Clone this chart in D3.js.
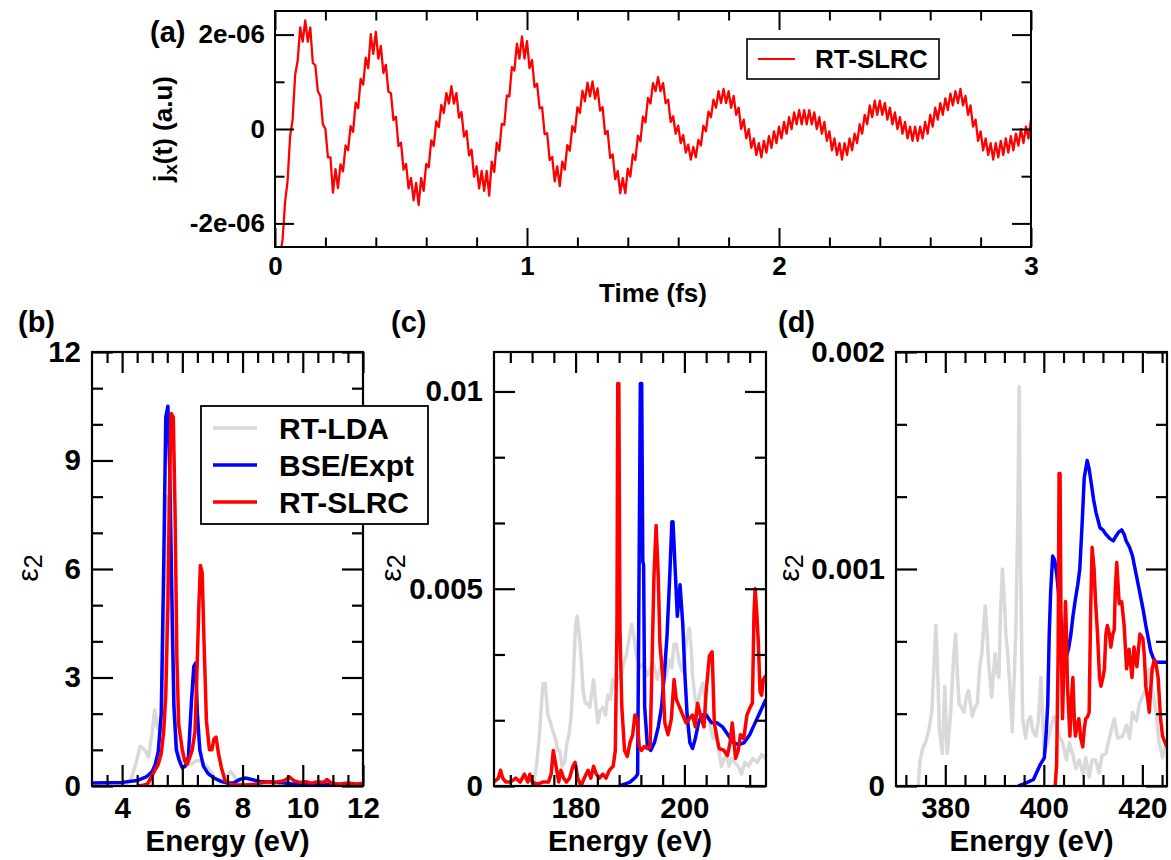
<!DOCTYPE html>
<html><head><meta charset="utf-8">
<script src="https://cdn.jsdelivr.net/npm/d3@7"></script>
<style>
body{margin:0;background:#fff}
svg{display:block}
text{font-family:"Liberation Sans",Arial,Helvetica,sans-serif}
</style>
</head><body>
<svg id="chart" width="1171" height="860"></svg>
<script>
// ---------------- DATA ----------------
// (a) current density j_x(t), sampled every 0.01 fs from t = 0, values in units of 1e-6 a.u.
const jxTimeStep = 0.01;
const jxUnit = 1e-6;
const jxValues = [
-2.9,-2.95,-2.7,-2.35,-1.55,-1.1,-0.15,0.2,1.15,1.45,
2.15,1.85,2.3,1.85,2.15,1.4,1.35,0.8,0.7,0.1,
0.0,-0.6,-0.6,-1.35,-0.85,-1.25,-0.75,-0.9,-0.35,-0.45,
0.06,-0.06,0.56,0.44,1.06,0.94,1.51,1.29,2.01,1.59,
2.06,1.49,1.76,1.19,1.36,0.79,0.76,0.19,0.26,-0.36,
-0.29,-0.86,-0.74,-1.26,-1.04,-1.51,-1.14,-1.61,-1.04,-1.31,
-0.74,-0.81,-0.24,-0.36,0.16,0.04,0.51,0.34,0.76,0.54,
0.91,0.54,0.76,0.24,0.36,-0.16,-0.04,-0.56,-0.44,-1.01,
-0.79,-1.26,-0.89,-1.31,-0.89,-1.41,-0.69,-0.91,-0.29,-0.46,
0.11,0.09,0.71,0.69,1.31,1.24,1.81,1.49,1.96,1.49,
1.86,1.29,1.46,0.89,0.96,0.44,0.46,-0.11,-0.09,-0.66,
-0.59,-1.11,-0.79,-1.21,-0.69,-0.86,-0.34,-0.46,0.06,-0.06,
0.46,0.34,0.81,0.59,0.98,0.69,1.01,0.64,0.86,0.39,
0.46,-0.11,-0.04,-0.61,-0.54,-1.06,-0.89,-1.36,-1.04,-1.36,
-0.84,-1.01,-0.54,-0.66,-0.14,-0.26,0.26,0.14,0.66,0.54,
0.97,0.8,1.1,0.8,0.97,0.55,0.62,0.15,0.27,-0.1,
0.07,-0.3,-0.13,-0.5,-0.33,-0.65,-0.38,-0.6,-0.23,-0.35,
0.07,-0.05,0.37,0.25,0.62,0.45,0.8,0.55,0.85,0.55,
0.8,0.45,0.7,0.3,0.45,0.0,0.2,-0.2,0.0,-0.4,
-0.2,-0.55,-0.3,-0.6,-0.25,-0.5,-0.15,-0.4,-0.05,-0.3,
0.05,-0.2,0.15,-0.1,0.25,0.0,0.35,0.1,0.4,0.1,
0.4,0.1,0.4,0.1,0.35,0.0,0.25,-0.1,0.15,-0.25,
-0.05,-0.45,-0.2,-0.55,-0.3,-0.65,-0.3,-0.55,-0.2,-0.45,
-0.1,-0.3,0.1,-0.1,0.3,0.1,0.5,0.25,0.6,0.3,
0.6,0.3,0.55,0.2,0.45,0.1,0.35,0.0,0.25,-0.1,
0.15,-0.2,0.05,-0.25,0.05,-0.25,0.05,-0.2,0.15,-0.1,
0.3,0.05,0.45,0.2,0.55,0.3,0.65,0.4,0.75,0.5,
0.8,0.55,0.85,0.5,0.7,0.3,0.5,0.05,0.2,-0.25,
-0.05,-0.45,-0.2,-0.55,-0.3,-0.65,-0.3,-0.6,-0.25,-0.55,
-0.2,-0.5,-0.15,-0.45,-0.1,-0.35,0.0,-0.3,0.05,-0.2,
0.2
];
const aXTicks = [0, 1, 2, 3];
const aXTickLabels = ["0", "1", "2", "3"];
const aXMinor = [0.2,0.4,0.6,0.8,1.2,1.4,1.6,1.8,2.2,2.4,2.6,2.8];
const aYTicks = [-2e-6, 0, 2e-6];
const aYTickLabels = ["-2e-06", "0", "2e-06"];
const aYMinor = [-1e-6, 1e-6];

// (b) valence region, [energy eV, epsilon_2]
const bLDA = [[3.8,0],[4.1,0.02],[4.3,0.2],[4.45,0.6],[4.6,1.1],[4.75,1.0],[4.88,0.8],[5.0,1.5],[5.08,2.1],[5.18,1.6],[5.3,1.5],[5.4,4],[5.48,8],[5.55,8],[5.65,4],[5.8,1.2],[6.0,0.7],[6.15,0.6],[6.3,0.6],[6.45,0.7],[6.6,0.7],[6.75,0.6],[6.9,0.45],[7.1,0.2],[7.3,0.15],[7.5,0.3],[7.6,0.4],[7.7,0.3],[7.85,0.1],[8.0,0.05],[8.5,0.05],[9,0.05],[10,0.03],[11,0.03],[12,0.03]];
const bBSE = [[3,0.08],[3.5,0.09],[4,0.1],[4.5,0.15],[4.8,0.25],[5.0,0.4],[5.1,0.6],[5.2,0.95],[5.3,2.0],[5.38,6.0],[5.45,10.2],[5.52,10.5],[5.58,8.8],[5.65,5.4],[5.72,2.2],[5.8,1.0],[5.9,0.7],[6.0,0.5],[6.1,0.55],[6.2,0.8],[6.3,2.3],[6.38,3.3],[6.44,3.4],[6.5,2.0],[6.58,1.0],[6.7,0.55],[6.85,0.35],[7.05,0.22],[7.3,0.12],[7.5,0.08],[7.7,0.08],[7.9,0.18],[8.1,0.22],[8.3,0.18],[8.6,0.12],[8.9,0.12],[9.2,0.1],[9.6,0.06],[10.0,0.05],[10.4,0.03],[10.8,0.05],[11.2,0.04],[11.6,0.05],[12,0.05]];
const bSLRC = [[4.5,0],[4.7,0.02],[4.85,0.06],[5.0,0.3],[5.1,0.45],[5.2,0.6],[5.3,0.9],[5.38,1.5],[5.45,2.5],[5.52,5.0],[5.58,8.5],[5.63,10.3],[5.7,10.2],[5.76,7.5],[5.82,3.5],[5.88,1.7],[5.93,1.4],[6.0,1.0],[6.08,0.7],[6.16,0.6],[6.25,0.8],[6.33,1.0],[6.42,1.5],[6.48,3.0],[6.55,5.0],[6.6,6.1],[6.66,5.9],[6.72,4.0],[6.8,1.8],[6.9,1.0],[6.98,1.0],[7.05,1.3],[7.12,1.35],[7.2,0.9],[7.3,0.5],[7.42,0.15],[7.6,0.05],[7.8,0.03],[8.1,0.03],[8.4,0.05],[8.8,0.12],[9.1,0.1],[9.4,0.15],[9.55,0.25],[9.7,0.15],[9.9,0.1],[10.1,0.12],[10.3,0.08],[10.5,0.12],[10.7,0.1],[10.8,0.18],[10.95,0.08],[11.2,0.05],[11.5,0.08],[11.8,0.05],[12,0.08]];
const bXTicks = [4, 6, 8, 10, 12];
const bXTickLabels = ["4", "6", "8", "10", "12"];
const bXMinor = [3.5,4.5,5,5.5,6.5,7,7.5,8.5,9,9.5,10.5,11,11.5];
const bYTicks = [0, 3, 6, 9, 12];
const bYTickLabels = ["0", "3", "6", "9", "12"];
const bYMinor = [1,2,4,5,7,8,10,11];

// (c)
const cLDA = [[172.2,0],[172.8,0.0005],[173.3,0.0012],[173.7,0.002],[174.0,0.0026],[174.4,0.0026],[174.9,0.0018],[175.4,0.0016],[175.8,0.0014],[176.3,0.0012],[176.7,0.0009],[177.1,0.0009],[177.5,0.0005],[178.0,0.0006],[178.4,0.0011],[178.8,0.0013],[179.2,0.0018],[179.6,0.0028],[180.0,0.0041],[180.3,0.0043],[180.7,0.0038],[181.0,0.0033],[181.4,0.0024],[181.8,0.0021],[182.2,0.0021],[182.6,0.002],[183.0,0.0024],[183.3,0.0027],[183.7,0.0021],[184.1,0.0016],[184.5,0.0019],[185.0,0.002],[185.5,0.0018],[185.9,0.0023],[186.4,0.0022],[186.8,0.0027],[187.3,0.0025],[187.8,0.0028],[188.3,0.0027],[188.8,0.0031],[189.3,0.0033],[189.8,0.0037],[190.3,0.0041],[190.7,0.0038],[191.2,0.0033],[191.8,0.003],[192.5,0.0031],[193.2,0.0028],[193.8,0.003],[194.3,0.0031],[195,0.0027],[195.6,0.003],[196.2,0.0026],[196.7,0.0028],[197.2,0.0032],[197.7,0.003],[198.1,0.0036],[198.5,0.0036],[199.1,0.0031],[199.6,0.0029],[200.0,0.0033],[200.5,0.0038],[200.9,0.004],[201.3,0.0034],[201.5,0.0028],[202.0,0.0022],[202.4,0.002],[202.9,0.0024],[203.4,0.0026],[203.9,0.002],[204.6,0.0016],[205.3,0.0012],[205.9,0.0014],[206.3,0.0009],[206.8,0.0005],[207.3,0.0007],[207.7,0.0008],[208.2,0.0005],[208.6,0.0007],[209.2,0.0006],[209.9,0.0005],[210.5,0.0003],[211.1,0.0006],[211.8,0.0005],[212.6,0.0007],[213.4,0.0006],[214.2,0.0008],[215,0.0007]];
const cBSE = [[188.0,0],[189,0.00005],[190,0.0001],[191.0,0.00022],[191.4,0.0003],[191.6,0.004],[191.9,0.0102],[192.15,0.0102],[192.35,0.0057],[192.5,0.0056],[192.7,0.002],[193.2,0.001],[193.8,0.0009],[194.5,0.0011],[195.2,0.0015],[195.8,0.002],[196.4,0.003],[196.8,0.0038],[197.3,0.0053],[197.7,0.0067],[197.9,0.0067],[198.3,0.0055],[198.7,0.0043],[199.2,0.0051],[199.7,0.0041],[200.1,0.0028],[200.5,0.0018],[201.0,0.0011],[201.5,0.00095],[202.0,0.0012],[202.6,0.0016],[203.2,0.0018],[204,0.0018],[205,0.0016],[206,0.0016],[207,0.0015],[208,0.0013],[209,0.0011],[210,0.00105],[211,0.0011],[212,0.0013],[213,0.0016],[214,0.0019],[215,0.0022]];
const cSLRC = [[165,0.0001],[165.8,0.0002],[166.2,0.0004],[166.6,0.0002],[167.2,0.0001],[168,0.0001],[169,0.0002],[169.8,0.0001],[170.6,0.0003],[171.2,0.0001],[171.6,0.0003],[172,0.0001],[173,0.00005],[174,0.0001],[175,0.0001],[175.5,0.0003],[175.9,0.0009],[176.4,0.0005],[176.9,0.0001],[177.3,0.0004],[177.8,0.0002],[178.3,0.0001],[178.9,0.0002],[179.5,0.0005],[179.9,0.0006],[180.4,0.0002],[181,0.0],[181.6,0.0002],[182.3,0.0004],[182.8,0.0002],[183.3,0.0005],[183.8,0.0003],[184.4,0.0002],[185,0.0003],[185.6,0.0002],[186.2,0.0004],[186.9,0.0005],[187.3,0.0009],[187.6,0.004],[187.75,0.0102],[187.95,0.0102],[188.15,0.004],[188.5,0.002],[189.0,0.0009],[189.5,0.00075],[190.0,0.0011],[190.5,0.0013],[190.9,0.0018],[191.3,0.0017],[191.7,0.001],[192.1,0.0009],[192.6,0.001],[193.2,0.00095],[193.7,0.001],[194.0,0.0028],[194.4,0.0053],[194.8,0.0066],[195.2,0.0053],[195.5,0.0036],[196.0,0.0028],[196.4,0.0016],[197.0,0.0013],[197.6,0.0017],[198.1,0.0027],[198.5,0.0022],[199.1,0.002],[199.7,0.0018],[200.3,0.0016],[200.9,0.0017],[201.5,0.0018],[202.0,0.0015],[202.4,0.0021],[203.1,0.0017],[203.6,0.0015],[204.0,0.0024],[204.6,0.0033],[205.1,0.0034],[205.5,0.0016],[206.0,0.0012],[206.4,0.00095],[207.3,0.0009],[207.9,0.00077],[208.4,0.0011],[208.8,0.0016],[209.4,0.0007],[209.9,0.0009],[210.3,0.0013],[210.9,0.0012],[211.5,0.0018],[212.1,0.002],[212.5,0.0021],[212.8,0.0044],[213.0,0.005],[213.3,0.0044],[213.6,0.0036],[213.9,0.0024],[214.2,0.0023],[214.5,0.0027],[215,0.0028]];
const cXTicks = [180, 200];
const cXTickLabels = ["180", "200"];
const cXMinor = [168,172,176,184,188,192,196,204,208,212];
const cYTicks = [0, 0.005, 0.01];
const cYTickLabels = ["0", "0.005", "0.01"];
const cYMinor = [0.005/3, 0.01/3, 0.02/3, 0.025/3];

// (d)
const dLDA = [[374.5,0],[374.9,0.00012],[375.5,0.00018],[376,0.0002],[376.7,0.00026],[377.3,0.00035],[377.8,0.0006],[378.1,0.00074],[378.5,0.0005],[378.8,0.00026],[379.4,0.00015],[379.9,0.00046],[380.4,0.00015],[381.1,0.00034],[381.7,0.0006],[382.1,0.0007],[382.5,0.0005],[382.8,0.00038],[383.3,0.00036],[383.8,0.00034],[384.2,0.0004],[384.7,0.00044],[385.1,0.00038],[385.5,0.00032],[386,0.00036],[386.5,0.00038],[387,0.00055],[387.4,0.00061],[388.1,0.00083],[388.5,0.0007],[388.8,0.00057],[389.4,0.00041],[390.1,0.00061],[390.5,0.00052],[390.9,0.0005],[391.2,0.0008],[391.6,0.001],[392.0,0.00085],[392.3,0.0007],[392.7,0.0006],[393.1,0.00046],[393.6,0.00025],[394.3,0.0007],[394.7,0.0012],[395.0,0.00184],[395.3,0.001],[395.7,0.00031],[396.3,0.00022],[396.8,0.0003],[397.3,0.00032],[397.8,0.00025],[398.4,0.00023],[398.9,0.0003],[399.4,0.0005],[400.1,0.00015],[400.8,0.0002],[401.5,0.00028],[402.1,0.00032],[402.8,0.00025],[403.8,0.0002],[404.6,0.00012],[405.2,0.0002],[405.8,0.00015],[406.5,0.00008],[407.2,0.00012],[408,0.00005],[408.5,0.00013],[409.2,0.00004],[409.8,0.00012],[410.5,0.00012],[411.2,0.00006],[411.8,0.00014],[412.6,0.00015],[413.3,0.00022],[414.3,0.00031],[415,0.00022],[416,0.00023],[416.8,0.00028],[417.4,0.00022],[418,0.00034],[418.8,0.0003],[419.4,0.00038],[420,0.00041],[420.7,0.00045],[421.4,0.00054],[422,0.00045],[422.7,0.00035],[423.4,0.0002],[424.1,0.00013],[424.6,0.00018],[425,0.0002]];
const dBSE = [[394.8,0],[396,0.00001],[397.9,0.00003],[399.3,0.0001],[400.1,0.00013],[400.5,0.00025],[400.8,0.00038],[401.1,0.0007],[401.4,0.0009],[401.8,0.00106],[402.2,0.00104],[402.6,0.00098],[403.2,0.00084],[403.7,0.0007],[404.2,0.00064],[404.6,0.0006],[405.0,0.00063],[405.5,0.0007],[405.9,0.00078],[406.4,0.00086],[406.9,0.00093],[407.3,0.001],[407.8,0.00122],[408.2,0.00142],[408.8,0.0015],[409.2,0.00146],[409.6,0.0014],[410.1,0.00132],[410.6,0.00126],[411.4,0.00119],[412,0.00118],[412.6,0.00116],[413.4,0.00114],[414.1,0.00113],[414.6,0.00115],[415.2,0.00117],[415.8,0.00118],[416.3,0.00116],[416.7,0.00113],[417.4,0.0011],[418,0.00106],[418.7,0.00098],[419.4,0.0009],[420.1,0.00082],[420.7,0.00074],[421.2,0.00068],[421.7,0.00062],[422.2,0.00059],[422.7,0.00057],[423.7,0.00057],[425,0.00057]];
const dSLRC = [[402.0,-0.0001],[402.6,0.0001],[402.9,0.0006],[403.1,0.00144],[403.3,0.00144],[403.5,0.0007],[403.8,0.00031],[404.1,0.0006],[404.4,0.00085],[404.6,0.0007],[404.8,0.00046],[405.3,0.00023],[405.6,0.0004],[405.9,0.0005],[406.2,0.0003],[406.4,0.00023],[406.8,0.00028],[407.1,0.00031],[407.5,0.00022],[407.9,0.00018],[408.2,0.00026],[408.5,0.00031],[408.9,0.00032],[409.2,0.00034],[409.5,0.0008],[409.8,0.0011],[410.2,0.001],[410.5,0.00085],[410.9,0.0007],[411.3,0.0005],[411.6,0.00046],[412.0,0.0005],[412.3,0.00054],[412.6,0.0007],[412.9,0.00074],[413.3,0.0007],[413.6,0.00064],[414.0,0.0007],[414.3,0.00072],[414.5,0.0009],[414.8,0.00103],[415.3,0.00084],[415.8,0.00085],[416.3,0.00074],[416.8,0.00054],[417.3,0.00063],[417.9,0.0005],[418.3,0.00064],[418.9,0.00055],[419.5,0.0007],[420.1,0.00068],[420.4,0.0006],[420.7,0.00046],[421.1,0.0004],[421.4,0.00034],[421.7,0.00045],[422,0.00054],[422.4,0.00058],[422.7,0.00057],[423.2,0.0005],[423.7,0.00031],[424.1,0.00023],[424.6,0.0002],[425,0.00018]];
const dXTicks = [380, 400, 420];
const dXTickLabels = ["380", "400", "420"];
const dXMinor = [372,376,384,388,392,396,404,408,412,416,424];
const dYTicks = [0, 0.001, 0.002];
const dYTickLabels = ["0", "0.001", "0.002"];
const dYMinor = [0.001/3, 0.002/3, 0.004/3, 0.005/3];

const seriesNames = ["RT-LDA", "BSE/Expt", "RT-SLRC"];
const seriesColors = ["#d9d9d9", "#0000ff", "#ff0000"];

// ---------------- DRAW ----------------
const svg = d3.select("#chart");
svg.append("rect").attr("width",1171).attr("height",860).attr("fill","#fff");
const jxData = jxValues.map((v,i)=>[i*jxTimeStep, v*jxUnit]);

function panel(cfg){
  const x = d3.scaleLinear().domain(cfg.xd).range([cfg.l, cfg.r]);
  const y = d3.scaleLinear().domain(cfg.yd).range([cfg.b, cfg.t]);
  const id = "clip-" + cfg.name;
  svg.append("clipPath").attr("id", id).append("rect")
    .attr("x", cfg.l).attr("y", cfg.t).attr("width", cfg.r-cfg.l).attr("height", cfg.b-cfg.t);
  const line = d3.line().x(d=>x(d[0])).y(d=>y(d[1]));
  const gS = svg.append("g").attr("clip-path", `url(#${id})`);
  cfg.series.forEach(s=>{
    gS.append("path").datum(s.data).attr("fill","none").attr("stroke", s.color)
      .attr("stroke-width", cfg.lw).attr("stroke-linejoin","round").attr("stroke-linecap","butt")
      .attr("d", line);
  });
  const H = cfg.b - cfg.t, W = cfg.r - cfg.l;
  function ax(gen, scale, vals, size, labels, tx, ty){
    const a = gen(scale).tickValues(vals).tickSizeInner(-size).tickSizeOuter(0).tickPadding(cfg.pad)
      .tickFormat(labels ? (d,i)=>labels[i] : "");
    const g = svg.append("g").attr("transform", `translate(${tx},${ty})`).call(a);
    g.select(".domain").remove();
    g.selectAll("line").attr("stroke","#000").attr("stroke-width", cfg.aw);
    g.selectAll("text").attr("fill","#000").attr("font-size", cfg.fs).attr("font-weight","bold")
      .style("font-family",'"Liberation Sans",Arial,Helvetica,sans-serif');
    return g;
  }
  ax(d3.axisBottom, x, cfg.xt, cfg.maj, cfg.xl, 0, cfg.b);
  ax(d3.axisBottom, x, cfg.xm, cfg.min, null, 0, cfg.b);
  ax(d3.axisTop, x, cfg.xt, cfg.maj, null, 0, cfg.t);
  ax(d3.axisTop, x, cfg.xm, cfg.min, null, 0, cfg.t);
  ax(d3.axisLeft, y, cfg.yt, cfg.maj, cfg.yl, cfg.l, 0);
  ax(d3.axisLeft, y, cfg.ym, cfg.min, null, cfg.l, 0);
  ax(d3.axisRight, y, cfg.yt, cfg.maj, null, cfg.r, 0);
  ax(d3.axisRight, y, cfg.ym, cfg.min, null, cfg.r, 0);
  svg.append("rect").attr("x", cfg.l).attr("y", cfg.t).attr("width", W).attr("height", H)
    .attr("fill","none").attr("stroke","#000").attr("stroke-width", cfg.aw);
  return {x, y};
}

panel({name:"a", l:275, r:1031, t:11, b:247, xd:[0,3], yd:[-2.5e-6,2.5e-6],
  xt:aXTicks, xl:aXTickLabels, xm:aXMinor, yt:aYTicks, yl:aYTickLabels, ym:aYMinor,
  maj:19, min:9.5, pad:10, fs:26, lw:2.3, aw:2,
  series:[{data:jxData, color:seriesColors[2]}]});

panel({name:"b", l:92, r:363, t:352, b:786, xd:[3,12], yd:[0,12],
  xt:bXTicks, xl:bXTickLabels, xm:bXMinor, yt:bYTicks, yl:bYTickLabels, ym:bYMinor,
  maj:21, min:11, pad:11, fs:29.5, lw:3.5, aw:2.2,
  series:[{data:bLDA,color:seriesColors[0]},{data:bBSE,color:seriesColors[1]},{data:bSLRC,color:seriesColors[2]}]});

panel({name:"c", l:494, r:766, t:352, b:786, xd:[165,215], yd:[0,0.011],
  xt:cXTicks, xl:cXTickLabels, xm:cXMinor, yt:cYTicks, yl:cYTickLabels, ym:cYMinor,
  maj:21, min:11, pad:11, fs:29.5, lw:3.5, aw:2.2,
  series:[{data:cLDA,color:seriesColors[0]},{data:cBSE,color:seriesColors[1]},{data:cSLRC,color:seriesColors[2]}]});

panel({name:"d", l:896, r:1167, t:352, b:786, xd:[370,425], yd:[0,0.002],
  xt:dXTicks, xl:dXTickLabels, xm:dXMinor, yt:dYTicks, yl:dYTickLabels, ym:dYMinor,
  maj:21, min:11, pad:11, fs:29.5, lw:3.5, aw:2.2,
  series:[{data:dLDA,color:seriesColors[0]},{data:dBSE,color:seriesColors[1]},{data:dSLRC,color:seriesColors[2]}]});

function txt(x, y, s, size, weight, anchor){
  return svg.append("text").attr("x",x).attr("y",y).attr("font-size",size)
    .attr("font-weight",weight||"bold").attr("text-anchor",anchor||"start").attr("fill","#000").text(s);
}
txt(150, 42, "(a)", 29);
txt(18, 332, "(b)", 29);
txt(391, 332, "(c)", 29);
txt(778, 332, "(d)", 29);
txt(653, 302, "Time (fs)", 26, "bold", "middle");
txt(227.5, 851, "Energy (eV)", 29.5, "bold", "middle");
txt(630, 851, "Energy (eV)", 29.5, "bold", "middle");
txt(1031.5, 851, "Energy (eV)", 29.5, "bold", "middle");
const ya = svg.append("text").attr("transform","translate(172,129) rotate(-90)")
  .attr("text-anchor","middle").attr("font-size",26).attr("font-weight","bold").attr("fill","#000");
ya.append("tspan").text("j");
ya.append("tspan").attr("font-size",19).attr("dy",5).text("x");
ya.append("tspan").attr("dy",-5).text("(t) (a.u)");
[[38,568],[401,568],[799,568]].forEach(p=>{
  const t = svg.append("text").attr("transform",`translate(${p[0]},${p[1]}) rotate(-90)`)
    .attr("text-anchor","middle").attr("font-size",30).attr("font-weight","normal").attr("fill","#000");
  t.append("tspan").text("ε");
  t.append("tspan").attr("font-size",25).attr("dy",4).text("2");
});

svg.append("rect").attr("x",747).attr("y",39).attr("width",192).attr("height",40)
  .attr("fill","#fff").attr("stroke","#000").attr("stroke-width",1.6);
svg.append("line").attr("x1",758).attr("x2",795).attr("y1",59).attr("y2",59)
  .attr("stroke",seriesColors[2]).attr("stroke-width",2);
txt(815, 68, seriesNames[2], 26);

svg.append("rect").attr("x",201).attr("y",406).attr("width",227).attr("height",118)
  .attr("fill","#fff").attr("stroke","#000").attr("stroke-width",1.8);
const legY = [428, 465, 502];
seriesNames.forEach((n,i)=>{
  svg.append("line").attr("x1",213).attr("x2",257).attr("y1",legY[i]).attr("y2",legY[i])
    .attr("stroke",seriesColors[i]).attr("stroke-width",3.5);
  txt(279, legY[i]+11, n, 30);
});
</script>
</body></html>
